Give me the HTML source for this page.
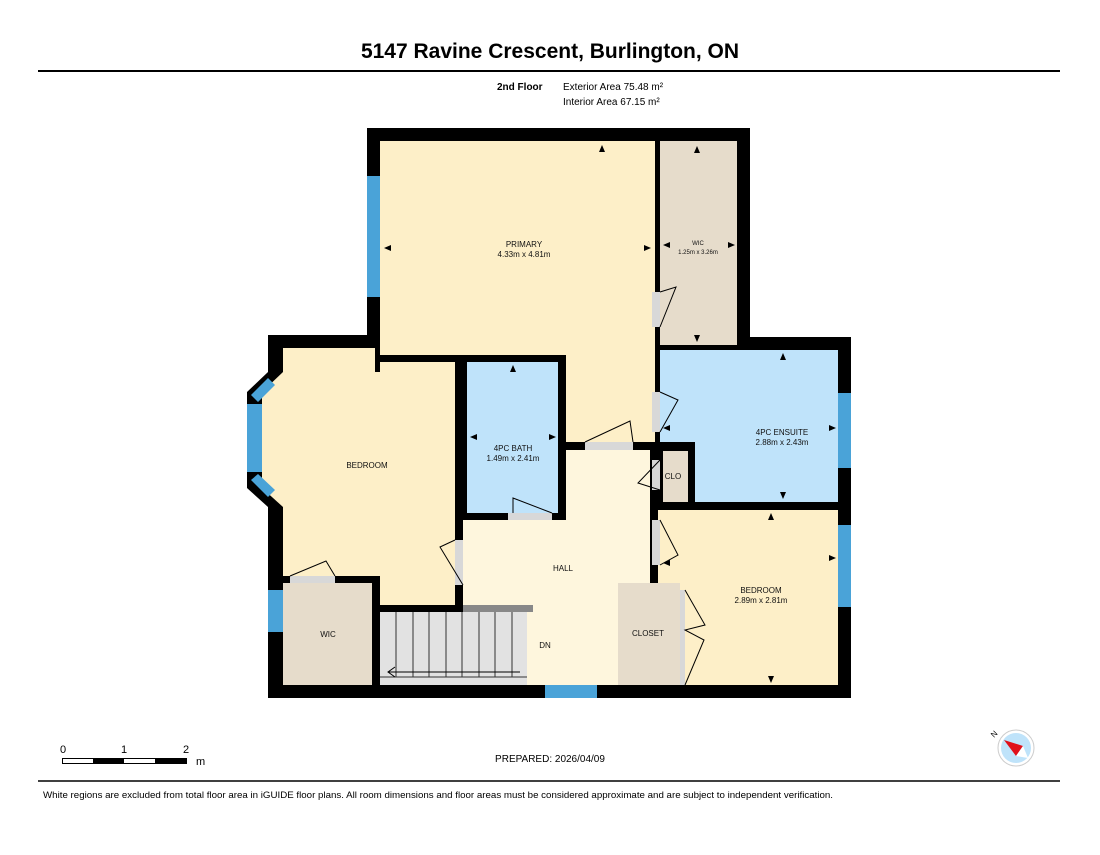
<!DOCTYPE html>
<html><head><meta charset="utf-8"><style>
body{margin:0;background:#fff;width:1100px;height:850px;overflow:hidden;font-family:"Liberation Sans",Arial,sans-serif}
</style></head><body>
<svg width="1100" height="850" xmlns="http://www.w3.org/2000/svg" font-family="Liberation Sans, Arial, sans-serif">
<text x="550" y="58" text-anchor="middle" font-size="21" font-weight="bold">5147 Ravine Crescent, Burlington, ON</text>
<line x1="38" y1="71" x2="1060" y2="71" stroke="#000" stroke-width="2"/>
<text x="497" y="90" font-size="10" font-weight="bold">2nd Floor</text>
<text x="563" y="90" font-size="10">Exterior Area 75.48 m²</text>
<text x="563" y="105" font-size="10">Interior Area 67.15 m²</text>

<rect x="367" y="128" width="383" height="225" fill="#000"/>
<rect x="737" y="337" width="114" height="361" fill="#000"/>
<rect x="268" y="335" width="480" height="363" fill="#000"/>
<polygon points="268,350 268,372 247,392 247,488 268,507 268,520 290,520 290,350" fill="#000"/>

<rect x="380" y="141" width="275" height="214" fill="#fdefc8"/>
<rect x="566" y="350" width="89" height="92" fill="#fdefc8"/>
<rect x="660" y="141" width="77" height="204" fill="#e6dccb"/>
<rect x="660" y="350" width="178" height="92" fill="#bfe3fa"/>
<rect x="695" y="442" width="143" height="60" fill="#bfe3fa"/>
<rect x="283" y="348" width="92" height="20" fill="#fdefc8"/>
<rect x="283" y="362" width="172" height="214" fill="#fdefc8"/>
<rect x="375" y="362" width="5" height="10" fill="#000"/>
<polygon points="283,372 262,392 262,488 283,507" fill="#fdefc8"/>
<rect x="380" y="576" width="75" height="29" fill="#fdefc8"/>
<rect x="467" y="362" width="91" height="151" fill="#bfe3fa"/>
<rect x="463" y="520" width="187" height="165" fill="#fef6dd"/>
<rect x="566" y="450" width="84" height="70" fill="#fef6dd"/>
<rect x="663" y="451" width="25" height="51" fill="#e6dccb"/>
<rect x="658" y="510" width="180" height="175" fill="#fdefc8"/>
<rect x="618" y="583" width="62" height="102" fill="#e6dccb"/>
<rect x="283" y="583" width="89" height="102" fill="#e6dccb"/>

<rect x="380" y="612" width="147" height="73" fill="#e2e2e2"/>
<rect x="463" y="605" width="70" height="7" fill="#888"/>
<g stroke="#333" stroke-width="1">
<line x1="380" y1="677" x2="527" y2="677"/>
<line x1="396" y1="612" x2="396" y2="677"/><line x1="413" y1="612" x2="413" y2="677"/><line x1="429" y1="612" x2="429" y2="677"/><line x1="446" y1="612" x2="446" y2="677"/><line x1="462" y1="612" x2="462" y2="677"/><line x1="479" y1="612" x2="479" y2="677"/><line x1="495" y1="612" x2="495" y2="677"/><line x1="512" y1="612" x2="512" y2="677"/>
</g>
<line x1="388" y1="672" x2="520" y2="672" stroke="#000" stroke-width="1"/>
<polyline points="395,667 388,672 395,677" fill="none" stroke="#000"/>

<g fill="#4aa3d8">
<rect x="367" y="176" width="13" height="121"/>
<rect x="247" y="404" width="15" height="68"/>
<polygon points="251,395 268,378 275,385 258,402"/>
<polygon points="251,480 258,474 275,490 268,497"/>
<rect x="268" y="590" width="15" height="42"/>
<rect x="838" y="393" width="13" height="75"/>
<rect x="838" y="525" width="13" height="82"/>
<rect x="545" y="685" width="52" height="13"/>
</g>

<g fill="#d8d8d8">
<rect x="652" y="292" width="8" height="35"/>
<rect x="652" y="392" width="8" height="40"/>
<rect x="585" y="442" width="48" height="8"/>
<rect x="508" y="513" width="44" height="7"/>
<rect x="455" y="540" width="8" height="45"/>
<rect x="290" y="576" width="45" height="7"/>
<rect x="652" y="460" width="8" height="30"/>
<rect x="652" y="520" width="8" height="45"/>
<rect x="680" y="590" width="5" height="95"/>
</g>
<g fill="none" stroke="#000" stroke-width="1">
<path d="M660,292 L676,287 L660,327"/>
<path d="M660,392 L678,400 L660,432"/>
<path d="M585,442 L630,421 L633,442"/>
<path d="M513,513 L513,498 L552,513"/>
<path d="M463,585 L440,547 L455,540"/>
<path d="M290,576 L326,561 L335,576"/>
<path d="M660,490 L638,483 L660,460"/>
<path d="M660,520 L678,555 L660,565"/>
<path d="M685,590 L705,625 L685,630 L704,640 L685,685"/>
</g>

<g fill="#000">
<polygon points="602,145 599,152 605,152"/>
<polygon points="384,248 391,245 391,251"/>
<polygon points="651,248 644,245 644,251"/>
<polygon points="697,146 694,153 700,153"/>
<polygon points="697,342 694,335 700,335"/>
<polygon points="663,245 670,242 670,248"/>
<polygon points="735,245 728,242 728,248"/>
<polygon points="783,353 780,360 786,360"/>
<polygon points="783,499 780,492 786,492"/>
<polygon points="663,428 670,425 670,431"/>
<polygon points="836,428 829,425 829,431"/>
<polygon points="513,365 510,372 516,372"/>
<polygon points="470,437 477,434 477,440"/>
<polygon points="556,437 549,434 549,440"/>
<polygon points="771,513 768,520 774,520"/>
<polygon points="771,683 768,676 774,676"/>
<polygon points="836,558 829,555 829,561"/>
<polygon points="663,563 670,560 670,566"/>
</g>

<g font-size="8" text-anchor="middle" fill="#111">
<text x="524" y="247">PRIMARY</text><text x="524" y="257">4.33m x 4.81m</text>
<text x="698" y="245" font-size="6">WIC</text><text x="698" y="254" font-size="6">1.25m x 3.26m</text>
<text x="782" y="435">4PC ENSUITE</text><text x="782" y="445">2.88m x 2.43m</text>
<text x="513" y="451">4PC BATH</text><text x="513" y="461">1.49m x 2.41m</text>
<text x="367" y="468">BEDROOM</text>
<text x="673" y="479">CLO</text>
<text x="563" y="571">HALL</text>
<text x="761" y="593">BEDROOM</text><text x="761" y="603">2.89m x 2.81m</text>
<text x="648" y="636">CLOSET</text>
<text x="328" y="637">WIC</text>
<text x="545" y="648">DN</text>
</g>

<rect x="62.5" y="758.5" width="124" height="5" fill="#fff" stroke="#000"/>
<rect x="93" y="758" width="31" height="6" fill="#000"/>
<rect x="155" y="758" width="32" height="6" fill="#000"/>
<g font-size="11"><text x="60" y="753">0</text><text x="121" y="753">1</text><text x="183" y="753">2</text><text x="196" y="765">m</text></g>

<text x="550" y="762" text-anchor="middle" font-size="10">PREPARED: 2026/04/09</text>

<circle cx="1016" cy="748" r="18" fill="#fff" stroke="#ccc"/>
<circle cx="1016" cy="748" r="15" fill="#bfe3fa"/>
<polygon points="1004,740 1023,746 1016,756" fill="#e0101a"/>
<polygon points="1023,746 1016,756 1028,758" fill="#fff"/>
<text x="994" y="738" font-size="8" transform="rotate(-45 994 738)">N</text>

<line x1="38" y1="781" x2="1060" y2="781" stroke="#000" stroke-width="1.5"/>
<text x="43" y="798" font-size="9" textLength="790" lengthAdjust="spacingAndGlyphs">White regions are excluded from total floor area in iGUIDE floor plans. All room dimensions and floor areas must be considered approximate and are subject to independent verification.</text>
</svg>
</body></html>
